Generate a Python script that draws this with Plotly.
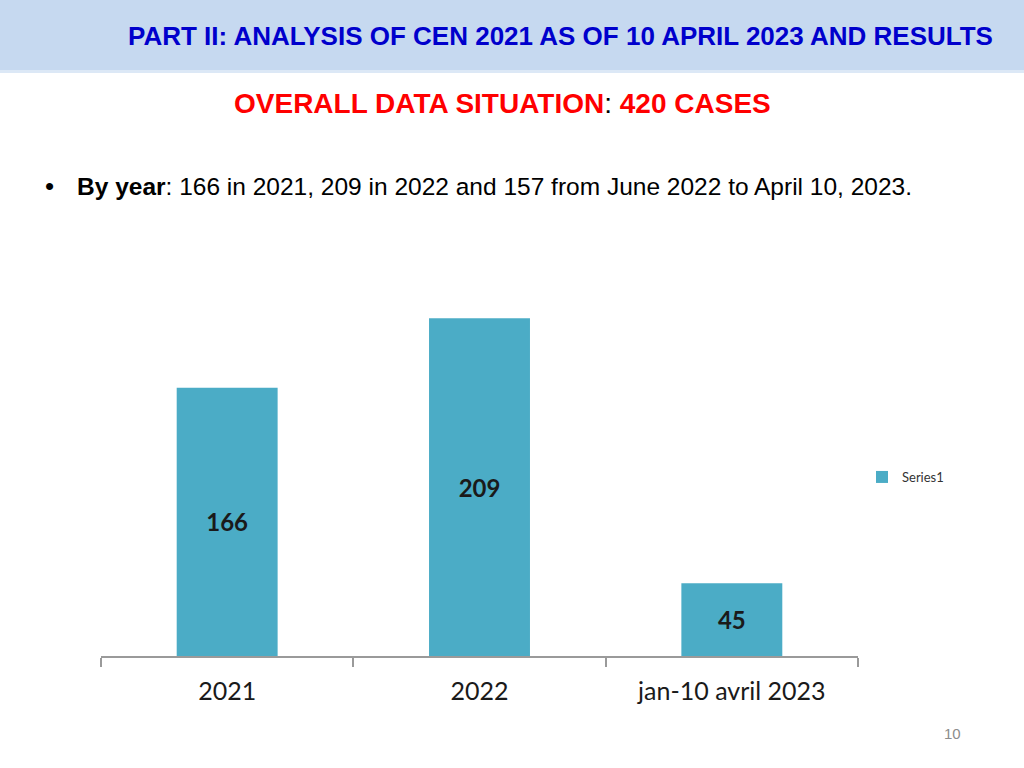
import plotly.graph_objects as go

categories = ["2021", "2022", "jan-10 avril 2023"]
values = [166, 209, 45]
series_name = "Series1"

W, H = 1024, 768
def px(x):
    return x / W
def py(y):
    return 1 - y / H

fig = go.Figure()
fig.add_trace(go.Bar(
    x=categories, y=values, name=series_name,
    marker=dict(color="#4BACC6", line=dict(width=0)),
    width=0.4,
    text=[str(v) for v in values],
    textposition="inside", insidetextanchor="middle",
    textfont=dict(family="Lato, Open Sans, sans-serif", size=24, color="#1a1a1a", weight="bold"),
    showlegend=True,
))

fig.update_layout(
    width=W, height=H,
    margin=dict(l=0, r=0, t=0, b=0),
    paper_bgcolor="white", plot_bgcolor="white",
    xaxis=dict(domain=[px(101), px(858)], showline=True, linecolor="#9a9a9a", linewidth=1.5,
               ticks="outside", tickson="boundaries", ticklen=9, tickcolor="#9a9a9a", tickwidth=1.5,
               ticklabelstandoff=12,
               tickfont=dict(family="Lato, Open Sans, sans-serif", size=25, color="#1a1a1a"),
               showgrid=False, zeroline=False),
    yaxis=dict(domain=[1 - 656 / H, 1 - 252 / H], range=[0, 250], visible=False, showgrid=False),
    legend=dict(x=px(862), y=py(477), xanchor="left", yanchor="middle",
                font=dict(family="Lato, Open Sans, sans-serif", size=13, color="#333"),
                itemwidth=30, bgcolor="rgba(0,0,0,0)"),
    shapes=[
        dict(type="rect", xref="paper", yref="paper", x0=0, x1=1, y0=py(70), y1=1,
             fillcolor="#C6D9F0", line=dict(width=0), layer="below"),
        dict(type="rect", xref="paper", yref="paper", x0=0, x1=1, y0=py(73), y1=py(70),
             fillcolor="#DCE8F6", line=dict(width=0), layer="below"),
    ],
    annotations=[
        dict(text="<b>PART II: ANALYSIS OF CEN 2021 AS OF 10 APRIL 2023 AND RESULTS</b>",
             x=px(560), y=py(36), xref="paper", yref="paper", showarrow=False,
             xanchor="center", yanchor="middle",
             font=dict(family="Liberation Sans, Arial, sans-serif", size=26, color="#0000CC")),
        dict(text="<b>OVERALL DATA SITUATION</b><span style='color:black'>:</span> <b>420 CASES</b>",
             x=px(502), y=py(103), xref="paper", yref="paper", showarrow=False,
             xanchor="center", yanchor="middle",
             font=dict(family="Liberation Sans, Arial, sans-serif", size=28, color="#FF0000")),
        dict(text="•", x=px(43), y=py(186), xref="paper", yref="paper", showarrow=False,
             xanchor="left", yanchor="middle",
             font=dict(family="Liberation Sans, Arial, sans-serif", size=26, color="black")),
        dict(text="<b>By year</b>: 166 in 2021, 209 in 2022 and 157 from June 2022 to April 10, 2023.",
             x=px(75), y=py(186), xref="paper", yref="paper", showarrow=False,
             xanchor="left", yanchor="middle",
             font=dict(family="Liberation Sans, Arial, sans-serif", size=24.5, color="black")),
        dict(text="10", x=px(952), y=py(733), xref="paper", yref="paper", showarrow=False,
             xanchor="center", yanchor="middle",
             font=dict(family="Liberation Sans, Arial, sans-serif", size=15, color="#8c8c8c")),
    ],
)

fig.write_html("out.html", config={"displayModeBar": False},
               post_script="document.body.style.margin='0px';")
